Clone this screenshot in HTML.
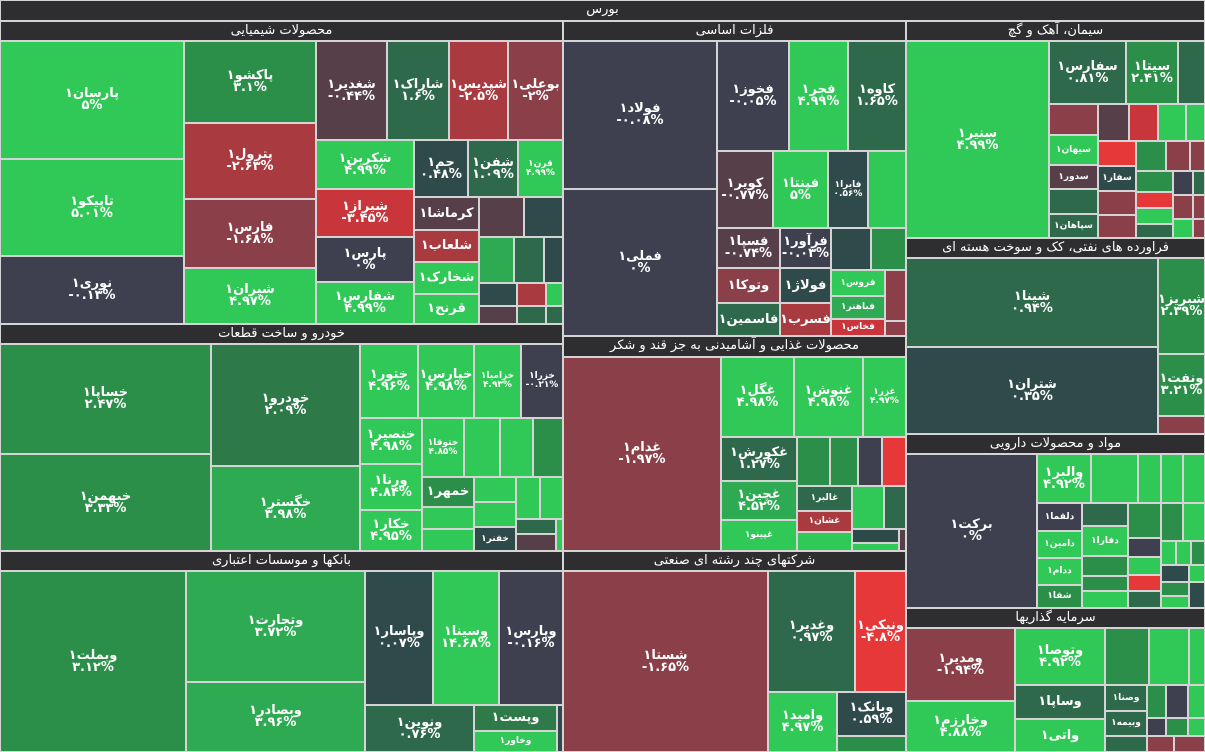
<!DOCTYPE html>
<html><head><meta charset="utf-8">
<style>
body{margin:0;width:1205px;height:752px;overflow:hidden;background:#d4d4d4;font-family:"DejaVu Sans","Noto Sans CJK SC",sans-serif;}
.c{position:absolute;box-sizing:border-box;border:1px solid #d4d4d4;display:flex;flex-direction:column;align-items:center;justify-content:center;color:#fff;text-align:center;font-size:13px;line-height:12px;font-weight:bold;overflow:hidden;white-space:nowrap}
.s{font-size:9px;line-height:9px}
.h{position:absolute;box-sizing:border-box;border:1px solid #d4d4d4;background:#2e2e30;color:#fff;font-size:13px;line-height:17px;text-align:center;white-space:nowrap;overflow:hidden}
.G{background:#30c857}.G2{background:#2eab52}.G3{background:#2b8f49}.G4{background:#2f694b}
.S{background:#3e404f}.T{background:#2f4a4b}.M{background:#573f4a}.R{background:#8a3f49}.R2{background:#a93a40}.RR{background:#e63739}
</style></head><body>
<div class="h" style="left:0;top:0;width:1205px;height:21px">بورس</div>

<!-- chemicals -->
<div class="h" style="left:0;top:21px;width:563px;height:20px">محصولات شیمیایی</div>
<div class="c G" style="left:0;top:41px;width:184px;height:118px">پارسان۱<br>۵%</div>
<div class="c G" style="left:0;top:159px;width:184px;height:97px">تاپیکو۱<br>۵.۰۱%</div>
<div class="c S" style="left:0;top:256px;width:184px;height:68px">نوری۱<br>-۰.۱۳%</div>
<div class="c G3" style="left:184px;top:41px;width:132px;height:82px">پاکشو۱<br>۳.۱%</div>
<div class="c R2" style="left:184px;top:123px;width:132px;height:76px">پترول۱<br>-۲.۶۳%</div>
<div class="c R" style="left:184px;top:199px;width:132px;height:69px">فارس۱<br>-۱.۶۸%</div>
<div class="c G" style="left:184px;top:268px;width:132px;height:56px">شیران۱<br>۴.۹۷%</div>
<div class="c M" style="left:316px;top:41px;width:71px;height:99px">شغدیر۱<br>-۰.۴۴%</div>
<div class="c G4" style="left:387px;top:41px;width:62px;height:99px">شاراک۱<br>۱.۶%</div>
<div class="c R2" style="left:449px;top:41px;width:59px;height:99px">شپدیس۱<br>-۲.۵%</div>
<div class="c R" style="left:508px;top:41px;width:55px;height:99px">بوعلی۱<br>-۲%</div>
<div class="c G" style="left:316px;top:140px;width:98px;height:49px">شکربن۱<br>۴.۹۹%</div>
<div class="c R2" style="left:316px;top:189px;width:98px;height:48px;background:#c8353b">شیراز۱<br>-۳.۴۵%</div>
<div class="c S" style="left:316px;top:237px;width:98px;height:45px">پارس۱<br>۰%</div>
<div class="c G" style="left:316px;top:282px;width:98px;height:42px">شفارس۱<br>۴.۹۹%</div>
<div class="c T" style="left:414px;top:140px;width:54px;height:57px">جم۱<br>۰.۴۸%</div>
<div class="c G4" style="left:468px;top:140px;width:50px;height:57px">شفن۱<br>۱.۰۹%</div>
<div class="c G s" style="left:518px;top:140px;width:45px;height:57px">قرن۱<br>۴.۹۹%</div>
<div class="c M" style="left:414px;top:197px;width:65px;height:33px">کرماشا۱</div>
<div class="c R2" style="left:414px;top:230px;width:65px;height:32px">شلعاب۱</div>
<div class="c G" style="left:414px;top:262px;width:65px;height:32px">شخارک۱</div>
<div class="c G" style="left:414px;top:294px;width:65px;height:30px">قرنح۱</div>
<div class="c M" style="left:479px;top:197px;width:45px;height:40px"></div>
<div class="c T" style="left:524px;top:197px;width:39px;height:40px"></div>
<div class="c G2" style="left:479px;top:237px;width:35px;height:46px"></div>
<div class="c G4" style="left:514px;top:237px;width:30px;height:46px"></div>
<div class="c T" style="left:544px;top:237px;width:19px;height:46px"></div>
<div class="c T" style="left:479px;top:283px;width:38px;height:23px"></div>
<div class="c R2" style="left:517px;top:283px;width:29px;height:23px"></div>
<div class="c G" style="left:546px;top:283px;width:17px;height:23px"></div>
<div class="c M" style="left:479px;top:306px;width:38px;height:18px"></div>
<div class="c G4" style="left:517px;top:306px;width:29px;height:18px"></div>
<div class="c G4" style="left:546px;top:306px;width:17px;height:18px"></div>

<!-- auto -->
<div class="h" style="left:0;top:324px;width:563px;height:20px">خودرو و ساخت قطعات</div>
<div class="c G3" style="left:0;top:344px;width:211px;height:110px">خساپا۱<br>۲.۴۷%</div>
<div class="c G3" style="left:0;top:454px;width:211px;height:97px">خبهمن۱<br>۳.۳۳%</div>
<div class="c G4" style="left:211px;top:344px;width:149px;height:122px;background:#2d7a48">خودرو۱<br>۲.۰۹%</div>
<div class="c G2" style="left:211px;top:466px;width:149px;height:85px">خگستر۱<br>۳.۹۸%</div>
<div class="c G" style="left:360px;top:344px;width:58px;height:74px">ختور۱<br>۴.۹۶%</div>
<div class="c G" style="left:418px;top:344px;width:56px;height:74px">خپارس۱<br>۴.۹۸%</div>
<div class="c G s" style="left:474px;top:344px;width:47px;height:74px">خزامیا۱<br>۴.۹۳%</div>
<div class="c S s" style="left:521px;top:344px;width:42px;height:74px">خزرا۱<br>-۰.۲۱%</div>
<div class="c G" style="left:360px;top:418px;width:62px;height:46px">خنصیر۱<br>۴.۹۸%</div>
<div class="c G" style="left:360px;top:464px;width:62px;height:46px">ورنا۱<br>۴.۸۴%</div>
<div class="c G" style="left:360px;top:510px;width:62px;height:41px">خکار۱<br>۴.۹۵%</div>
<div class="c G s" style="left:422px;top:418px;width:42px;height:59px">ختوقا۱<br>۴.۸۵%</div>
<div class="c G" style="left:464px;top:418px;width:36px;height:59px"></div>
<div class="c G" style="left:500px;top:418px;width:33px;height:59px"></div>
<div class="c G3" style="left:533px;top:418px;width:30px;height:59px"></div>
<div class="c G3" style="left:422px;top:477px;width:52px;height:30px">خمهر۱</div>
<div class="c G" style="left:422px;top:507px;width:52px;height:22px"></div>
<div class="c G" style="left:422px;top:529px;width:52px;height:22px"></div>
<div class="c G" style="left:474px;top:477px;width:42px;height:25px"></div>
<div class="c G" style="left:474px;top:502px;width:42px;height:25px"></div>
<div class="c T s" style="left:474px;top:527px;width:42px;height:24px">خفنر۱</div>
<div class="c G" style="left:516px;top:477px;width:24px;height:42px"></div>
<div class="c G" style="left:540px;top:477px;width:23px;height:42px"></div>
<div class="c G4" style="left:516px;top:519px;width:40px;height:15px"></div>
<div class="c M" style="left:516px;top:534px;width:40px;height:17px"></div>
<div class="c G" style="left:556px;top:519px;width:7px;height:32px"></div>

<!-- banks -->
<div class="h" style="left:0;top:551px;width:563px;height:20px">بانکها و موسسات اعتباری</div>
<div class="c G3" style="left:0;top:571px;width:186px;height:181px">وبملت۱<br>۳.۱۲%</div>
<div class="c G2" style="left:186px;top:571px;width:179px;height:111px">وتجارت۱<br>۳.۷۲%</div>
<div class="c G2" style="left:186px;top:682px;width:179px;height:70px">وبصادر۱<br>۳.۹۶%</div>
<div class="c T" style="left:365px;top:571px;width:68px;height:134px">وپاسار۱<br>۰.۰۷%</div>
<div class="c G" style="left:433px;top:571px;width:66px;height:134px">وسینا۱<br>۱۴.۶۸%</div>
<div class="c S" style="left:499px;top:571px;width:64px;height:134px">وپارس۱<br>-۰.۱۶%</div>
<div class="c G4" style="left:365px;top:705px;width:109px;height:47px">ونوین۱<br>۰.۷۶%</div>
<div class="c G4" style="left:474px;top:705px;width:83px;height:26px;background:#2e7a48">وپست۱</div>
<div class="c G s" style="left:474px;top:731px;width:83px;height:21px">وخاور۱</div>
<div class="c T" style="left:557px;top:705px;width:6px;height:47px"></div>

<!-- metals -->
<div class="h" style="left:563px;top:21px;width:343px;height:20px">فلزات اساسی</div>
<div class="c S" style="left:563px;top:41px;width:154px;height:148px">فولاد۱<br>-۰.۰۸%</div>
<div class="c S" style="left:563px;top:189px;width:154px;height:147px">فملی۱<br>۰%</div>
<div class="c S" style="left:717px;top:41px;width:72px;height:110px">فخوز۱<br>-۰.۰۵%</div>
<div class="c G" style="left:789px;top:41px;width:59px;height:110px">فجر۱<br>۴.۹۹%</div>
<div class="c G4" style="left:848px;top:41px;width:58px;height:110px">کاوه۱<br>۱.۶۵%</div>
<div class="c M" style="left:717px;top:151px;width:56px;height:77px">کویر۱<br>-۰.۷۷%</div>
<div class="c G" style="left:773px;top:151px;width:55px;height:77px">فپنتا۱<br>۵%</div>
<div class="c T s" style="left:828px;top:151px;width:40px;height:77px">فایرا۱<br>۰.۵۶%</div>
<div class="c G" style="left:868px;top:151px;width:38px;height:77px"></div>
<div class="c M" style="left:717px;top:228px;width:63px;height:40px">فسپا۱<br>-۰.۷۴%</div>
<div class="c S" style="left:780px;top:228px;width:51px;height:40px">فرآور۱<br>-۰.۰۳%</div>
<div class="c T" style="left:831px;top:228px;width:40px;height:42px"></div>
<div class="c G3" style="left:871px;top:228px;width:35px;height:42px"></div>
<div class="c R" style="left:717px;top:268px;width:63px;height:35px">وتوکا۱</div>
<div class="c T" style="left:780px;top:268px;width:51px;height:35px">فولاژ۱</div>
<div class="c G4" style="left:717px;top:303px;width:63px;height:33px">فاسمین۱</div>
<div class="c R2" style="left:780px;top:303px;width:51px;height:33px">فسرب۱</div>
<div class="c G s" style="left:831px;top:270px;width:54px;height:26px">فروس۱</div>
<div class="c G2 s" style="left:831px;top:296px;width:54px;height:23px">فباهنر۱</div>
<div class="c RR s" style="left:831px;top:319px;width:54px;height:17px;background:#c8353b">فخاس۱</div>
<div class="c R" style="left:885px;top:270px;width:21px;height:51px"></div>
<div class="c R" style="left:885px;top:321px;width:21px;height:15px"></div>

<!-- food -->
<div class="h" style="left:563px;top:336px;width:343px;height:21px">محصولات غذایی و آشامیدنی به جز قند و شکر</div>
<div class="c R" style="left:563px;top:357px;width:158px;height:194px">غدام۱<br>-۱.۹۷%</div>
<div class="c G" style="left:721px;top:357px;width:73px;height:80px">غگل۱<br>۴.۹۸%</div>
<div class="c G" style="left:794px;top:357px;width:69px;height:80px">غنوش۱<br>۴.۹۸%</div>
<div class="c G s" style="left:863px;top:357px;width:43px;height:80px">غزر۱<br>۴.۹۷%</div>
<div class="c G4" style="left:721px;top:437px;width:76px;height:44px">غکورش۱<br>۱.۲۷%</div>
<div class="c G2" style="left:721px;top:481px;width:76px;height:39px">غچین۱<br>۴.۵۲%</div>
<div class="c G s" style="left:721px;top:520px;width:76px;height:31px">غپینو۱</div>
<div class="c G3" style="left:797px;top:437px;width:33px;height:49px"></div>
<div class="c G3" style="left:830px;top:437px;width:28px;height:49px"></div>
<div class="c S" style="left:858px;top:437px;width:24px;height:49px"></div>
<div class="c RR" style="left:882px;top:437px;width:24px;height:49px"></div>
<div class="c G4 s" style="left:797px;top:486px;width:55px;height:25px">غالبر۱</div>
<div class="c R2 s" style="left:797px;top:511px;width:55px;height:21px">غشان۱</div>
<div class="c G" style="left:797px;top:532px;width:55px;height:19px"></div>
<div class="c G" style="left:852px;top:486px;width:32px;height:43px"></div>
<div class="c G4" style="left:884px;top:486px;width:22px;height:43px"></div>
<div class="c T" style="left:852px;top:529px;width:47px;height:14px"></div>
<div class="c G" style="left:852px;top:543px;width:47px;height:8px"></div>
<div class="c M" style="left:899px;top:529px;width:7px;height:22px"></div>

<!-- multi -->
<div class="h" style="left:563px;top:551px;width:343px;height:20px">شرکتهای چند رشته ای صنعتی</div>
<div class="c R" style="left:563px;top:571px;width:205px;height:181px">شستا۱<br>-۱.۶۵%</div>
<div class="c G4" style="left:768px;top:571px;width:87px;height:121px">وغدیر۱<br>۰.۹۷%</div>
<div class="c RR" style="left:855px;top:571px;width:51px;height:121px">ونیکی۱<br>-۴.۸%</div>
<div class="c G" style="left:768px;top:692px;width:69px;height:60px">وامید۱<br>۴.۹۷%</div>
<div class="c T" style="left:837px;top:692px;width:69px;height:44px">وبانک۱<br>۰.۵۹%</div>
<div class="c G3" style="left:837px;top:736px;width:69px;height:16px"></div>

<!-- cement -->
<div class="h" style="left:906px;top:21px;width:299px;height:20px">سیمان، آهک و گچ</div>
<div class="c G" style="left:906px;top:41px;width:143px;height:197px">سنیر۱<br>۴.۹۹%</div>
<div class="c G4" style="left:1049px;top:41px;width:77px;height:63px">سفارس۱<br>۰.۸۱%</div>
<div class="c G3" style="left:1126px;top:41px;width:52px;height:63px">سیتا۱<br>۲.۴۱%</div>
<div class="c G4" style="left:1178px;top:41px;width:27px;height:63px"></div>
<div class="c R" style="left:1049px;top:104px;width:49px;height:31px"></div>
<div class="c G s" style="left:1049px;top:135px;width:49px;height:30px">سیهان۱</div>
<div class="c M s" style="left:1049px;top:165px;width:49px;height:24px">سدور۱</div>
<div class="c G4" style="left:1049px;top:189px;width:49px;height:25px"></div>
<div class="c G4 s" style="left:1049px;top:214px;width:49px;height:24px">سپاهان۱</div>
<div class="c M" style="left:1098px;top:104px;width:31px;height:37px"></div>
<div class="c RR" style="left:1098px;top:141px;width:38px;height:25px"></div>
<div class="c T s" style="left:1098px;top:166px;width:38px;height:25px">سفار۱</div>
<div class="c R" style="left:1098px;top:191px;width:38px;height:24px"></div>
<div class="c R" style="left:1098px;top:215px;width:38px;height:23px"></div>
<div class="c R2" style="left:1129px;top:104px;width:29px;height:37px;background:#c8353b"></div>
<div class="c G" style="left:1158px;top:104px;width:28px;height:37px"></div>
<div class="c G" style="left:1186px;top:104px;width:19px;height:37px"></div>
<div class="c G3" style="left:1136px;top:141px;width:30px;height:30px"></div>
<div class="c R" style="left:1166px;top:141px;width:24px;height:30px"></div>
<div class="c R" style="left:1190px;top:141px;width:15px;height:30px"></div>
<div class="c G3" style="left:1136px;top:171px;width:37px;height:21px"></div>
<div class="c S" style="left:1173px;top:171px;width:20px;height:24px"></div>
<div class="c G4" style="left:1193px;top:171px;width:12px;height:24px"></div>
<div class="c RR" style="left:1136px;top:192px;width:37px;height:16px"></div>
<div class="c G" style="left:1136px;top:208px;width:37px;height:16px"></div>
<div class="c G4" style="left:1136px;top:224px;width:37px;height:14px"></div>
<div class="c R" style="left:1173px;top:195px;width:20px;height:24px"></div>
<div class="c R" style="left:1193px;top:195px;width:12px;height:24px"></div>
<div class="c G" style="left:1173px;top:219px;width:20px;height:19px"></div>
<div class="c R" style="left:1193px;top:219px;width:12px;height:19px"></div>

<!-- refinery -->
<div class="h" style="left:906px;top:238px;width:299px;height:20px">فراورده های نفتی، کک و سوخت هسته ای</div>
<div class="c G4" style="left:906px;top:258px;width:252px;height:89px">شینا۱<br>۰.۹۴%</div>
<div class="c T" style="left:906px;top:347px;width:252px;height:87px">شتران۱<br>۰.۳۵%</div>
<div class="c G3" style="left:1158px;top:258px;width:47px;height:96px">شبریز۱<br>۲.۳۹%</div>
<div class="c G3" style="left:1158px;top:354px;width:47px;height:62px">ونفت۱<br>۳.۲۱%</div>
<div class="c R" style="left:1158px;top:416px;width:47px;height:18px"></div>

<!-- pharma -->
<div class="h" style="left:906px;top:434px;width:299px;height:20px">مواد و محصولات دارویی</div>
<div class="c S" style="left:906px;top:454px;width:131px;height:154px">برکت۱<br>۰%</div>
<div class="c G" style="left:1037px;top:454px;width:54px;height:49px">والبر۱<br>۴.۹۲%</div>
<div class="c G" style="left:1091px;top:454px;width:47px;height:49px"></div>
<div class="c G" style="left:1138px;top:454px;width:23px;height:49px"></div>
<div class="c G" style="left:1161px;top:454px;width:22px;height:49px"></div>
<div class="c G" style="left:1183px;top:454px;width:22px;height:49px"></div>
<div class="c S s" style="left:1037px;top:503px;width:45px;height:28px">دلقما۱</div>
<div class="c G s" style="left:1037px;top:531px;width:45px;height:27px">دامین۱</div>
<div class="c G s" style="left:1037px;top:558px;width:45px;height:27px">ددام۱</div>
<div class="c G3 s" style="left:1037px;top:585px;width:45px;height:23px">شفا۱</div>
<div class="c G4" style="left:1082px;top:503px;width:46px;height:23px"></div>
<div class="c G s" style="left:1082px;top:526px;width:46px;height:30px">دفارا۱</div>
<div class="c G3" style="left:1082px;top:556px;width:46px;height:20px"></div>
<div class="c G3" style="left:1082px;top:576px;width:46px;height:15px"></div>
<div class="c G" style="left:1082px;top:591px;width:46px;height:17px"></div>
<div class="c G3" style="left:1128px;top:503px;width:33px;height:35px"></div>
<div class="c S" style="left:1128px;top:538px;width:33px;height:19px"></div>
<div class="c G" style="left:1128px;top:557px;width:33px;height:18px"></div>
<div class="c RR" style="left:1128px;top:575px;width:33px;height:16px"></div>
<div class="c G4" style="left:1128px;top:591px;width:33px;height:17px"></div>
<div class="c G3" style="left:1161px;top:503px;width:22px;height:38px"></div>
<div class="c G" style="left:1183px;top:503px;width:22px;height:38px"></div>
<div class="c G" style="left:1161px;top:541px;width:15px;height:24px"></div>
<div class="c G" style="left:1176px;top:541px;width:15px;height:24px"></div>
<div class="c G3" style="left:1191px;top:541px;width:14px;height:24px"></div>
<div class="c T" style="left:1161px;top:565px;width:28px;height:17px"></div>
<div class="c G" style="left:1189px;top:565px;width:16px;height:17px"></div>
<div class="c G3" style="left:1161px;top:582px;width:28px;height:14px"></div>
<div class="c G" style="left:1161px;top:596px;width:28px;height:12px"></div>
<div class="c T" style="left:1189px;top:582px;width:16px;height:26px"></div>

<!-- investment -->
<div class="h" style="left:906px;top:608px;width:299px;height:20px">سرمایه گذاریها</div>
<div class="c R" style="left:906px;top:628px;width:109px;height:73px">ومدیر۱<br>-۱.۹۴%</div>
<div class="c G" style="left:906px;top:701px;width:109px;height:51px">وخارزم۱<br>۴.۸۸%</div>
<div class="c G" style="left:1015px;top:628px;width:90px;height:57px">وتوصا۱<br>۴.۹۲%</div>
<div class="c G3" style="left:1105px;top:628px;width:44px;height:57px"></div>
<div class="c G" style="left:1149px;top:628px;width:40px;height:57px"></div>
<div class="c G" style="left:1189px;top:628px;width:16px;height:57px"></div>
<div class="c G4" style="left:1015px;top:685px;width:90px;height:34px">وساپا۱</div>
<div class="c G" style="left:1015px;top:719px;width:90px;height:33px">واتی۱</div>
<div class="c G4 s" style="left:1105px;top:685px;width:42px;height:26px">وصنا۱</div>
<div class="c G4 s" style="left:1105px;top:711px;width:42px;height:25px">وبیمه۱</div>
<div class="c G4" style="left:1105px;top:736px;width:42px;height:16px"></div>
<div class="c G3" style="left:1147px;top:685px;width:19px;height:33px"></div>
<div class="c S" style="left:1166px;top:685px;width:22px;height:33px"></div>
<div class="c G" style="left:1188px;top:685px;width:17px;height:33px"></div>
<div class="c S" style="left:1147px;top:718px;width:19px;height:18px"></div>
<div class="c G3" style="left:1166px;top:718px;width:22px;height:18px"></div>
<div class="c G" style="left:1188px;top:718px;width:17px;height:18px"></div>
<div class="c R" style="left:1147px;top:736px;width:27px;height:16px"></div>
<div class="c R" style="left:1174px;top:736px;width:31px;height:16px"></div>
</body></html>
